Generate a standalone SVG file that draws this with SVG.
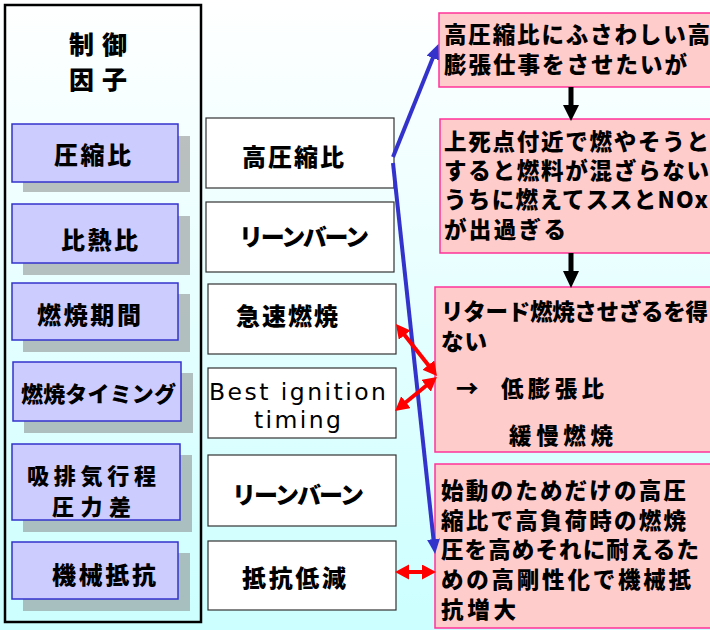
<svg xmlns="http://www.w3.org/2000/svg" width="710" height="630" viewBox="0 0 710 630">
<defs>
<linearGradient id="bg" x1="0" y1="0" x2="0" y2="1">
<stop offset="0" stop-color="#ffffff"/>
<stop offset="1" stop-color="#ccffff"/>
</linearGradient>
<marker id="blueHead" markerUnits="userSpaceOnUse" markerWidth="16" markerHeight="14" refX="4" refY="6.5" orient="auto">
<path d="M0,0 L15,6.5 L0,13 z" fill="#3333cc"/>
</marker>
<marker id="redHead" markerUnits="userSpaceOnUse" markerWidth="16" markerHeight="16" refX="4" refY="7.5" orient="auto-start-reverse">
<path d="M0,0 L14,7.5 L0,15 z" fill="#ff0000"/>
</marker>
</defs>
<style>
.jp{font-family:"Noto Sans CJK JP","Noto Sans CJK SC",sans-serif;font-weight:900;fill:#000}
.t1{font-size:25px}
.t2{font-size:24px}
.t2s{font-size:22px}
.t3{font-size:22.5px}
.en{font-family:"DejaVu Sans","Lato",sans-serif;font-weight:400;font-size:23.5px;fill:#000;font-variant-ligatures:none}
.fac{fill:#ccccff;stroke:#3333cc;stroke-width:1.5}
.sh{fill:#808080;fill-opacity:0.5}
.mid{fill:#ffffff;stroke:#333333;stroke-width:1.2}
.pk{fill:#ffcccc;stroke:#ff3399;stroke-width:1.5}
.blue{stroke:#3333cc;stroke-width:4;fill:none}
.red{stroke:#ff0000;stroke-width:4;fill:none}
</style>
<rect x="0" y="0" width="710" height="630" fill="url(#bg)"/>

<g id="frame">
<rect x="5" y="5" width="196" height="617" fill="none" stroke="#000" stroke-width="2.5"/>
<text class="jp t1" x="69" y="54" textLength="58">制御</text>
<text class="jp t1" x="69" y="89" textLength="58">因子</text>
</g>

<g id="f1"><rect class="sh" x="23" y="136" width="167" height="56"/><rect class="fac" x="12" y="124" width="166" height="58"/><text class="jp t2" x="54" y="164" textLength="77">圧縮比</text></g>
<g id="f2"><rect class="sh" x="23" y="216" width="167" height="59"/><rect class="fac" x="12" y="204" width="166" height="59"/><text class="jp t2" x="61" y="249" textLength="77">比熱比</text></g>
<g id="f3"><rect class="sh" x="23" y="294" width="167" height="58"/><rect class="fac" x="12" y="283" width="166" height="57"/><text class="jp t2" x="37" y="324" textLength="104">燃焼期間</text></g>
<g id="f4"><rect class="sh" x="24" y="373" width="169" height="60"/><rect class="fac" x="13" y="362" width="168" height="59"/><text class="jp t2s" x="21" y="402" textLength="155">燃焼タイミング</text></g>
<g id="f5"><rect class="sh" x="23" y="455" width="169" height="77"/><rect class="fac" x="12" y="444" width="168" height="76"/><text class="jp t2s" x="27" y="484" textLength="129">吸排気行程</text><text class="jp t2s" x="52" y="515" textLength="79">圧力差</text></g>
<g id="f6"><rect class="sh" x="23" y="553" width="167" height="58"/><rect class="fac" x="12" y="542" width="166" height="57"/><text class="jp t2" x="52" y="584" textLength="104">機械抵抗</text></g>

<g id="m1"><rect class="mid" x="206" y="118" width="188" height="70"/><text class="jp t2" x="242" y="166" textLength="102">高圧縮比</text></g>
<g id="m2"><rect class="mid" x="206" y="202" width="188" height="70"/><text class="jp t2" x="239" y="246" textLength="130">リーンバーン</text></g>
<g id="m3"><rect class="mid" x="208" y="284" width="188" height="70"/><text class="jp t2" x="236" y="325" textLength="102">急速燃焼</text></g>
<g id="m4"><rect class="mid" x="208" y="368" width="188" height="70"/><text class="en" x="209" y="400" textLength="177">Best ignition</text><text class="en" x="254" y="428" textLength="87">timing</text></g>
<g id="m5"><rect class="mid" x="208" y="455" width="188" height="71"/><text class="jp t2" x="232" y="504" textLength="132">リーンバーン</text></g>
<g id="m6"><rect class="mid" x="208" y="541" width="188" height="69"/><text class="jp t2" x="242" y="587" textLength="104">抵抗低減</text></g>

<g id="p1"><rect class="pk" x="439" y="13" width="280" height="74"/>
<text class="jp t3" x="444" y="43" textLength="266">高圧縮比にふさわしい高</text>
<text class="jp t3" x="444" y="73" textLength="243">膨張仕事をさせたいが</text></g>
<g id="p2"><rect class="pk" x="440" y="119" width="280" height="134"/>
<text class="jp t3" x="444" y="150" textLength="265">上死点付近で燃やそうと</text>
<text class="jp t3" x="444" y="179" textLength="265">すると燃料が混ざらない</text>
<text class="jp t3" x="444" y="208" textLength="264">うちに燃えてススとNOx</text>
<text class="jp t3" x="444" y="238" textLength="122">が出過ぎる</text></g>
<g id="p3"><rect class="pk" x="435" y="287" width="285" height="165"/>
<text class="jp t3" x="441" y="320" textLength="267">リタード燃焼させざるを得</text>
<text class="jp t3" x="441" y="350" textLength="46">ない</text>
<text class="jp t3" x="456" y="397">→</text>
<text class="jp t3" x="501" y="397" textLength="103">低膨張比</text>
<text class="jp t3" x="509" y="444" textLength="104">緩慢燃焼</text></g>
<g id="p4"><rect class="pk" x="435" y="464" width="285" height="164"/>
<text class="jp t3" x="441" y="499" textLength="245">始動のためだけの高圧</text>
<text class="jp t3" x="441" y="529" textLength="245">縮比で高負荷時の燃焼</text>
<text class="jp t3" x="441" y="558" textLength="258">圧を高めそれに耐えるた</text>
<text class="jp t3" x="441" y="588" textLength="250">めの高剛性化で機械抵</text>
<text class="jp t3" x="441" y="618" textLength="75">抗増大</text></g>

<g id="connectors">
<polygon points="568.5,87 573.5,87 573.5,105 579,105 571,121 563,105 568.5,105" fill="#000"/>
<polygon points="568.5,253 573.5,253 573.5,271 579,271 571,288 563,271 568.5,271" fill="#000"/>
<line class="blue" x1="393" y1="157" x2="434.3" y2="54.3" marker-end="url(#blueHead)"/>
<line class="blue" x1="393" y1="163" x2="433.9" y2="543.1" marker-end="url(#blueHead)"/>
<line class="red" x1="402.2" y1="331.9" x2="430.8" y2="368.2" marker-start="url(#redHead)" marker-end="url(#redHead)"/>
<line class="red" x1="402.8" y1="404.7" x2="429.2" y2="383.3" marker-start="url(#redHead)" marker-end="url(#redHead)"/>
<line class="red" x1="405" y1="572" x2="426" y2="572" marker-start="url(#redHead)" marker-end="url(#redHead)"/>
</g>
</svg>
